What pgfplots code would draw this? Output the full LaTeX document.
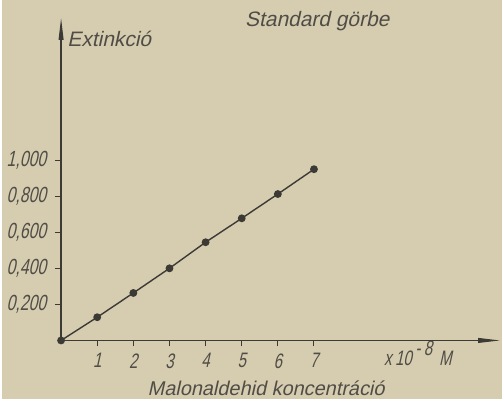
\documentclass[border=0pt]{standalone}
\usepackage{fontspec}
\setmainfont{Liberation Sans}
\newfontfamily\hand[FakeSlant=0.22]{Liberation Sans}
\newfontfamily\handnarrow[FakeSlant=0.22,FakeStretch=0.72]{Liberation Sans}
\usepackage{pgfplots}
\pgfplotsset{compat=1.18}
\usetikzlibrary{arrows.meta}
\definecolor{paper}{RGB}{214,204,176}
\definecolor{ink}{RGB}{60,58,52}
\definecolor{pen}{RGB}{80,77,70}
\begin{document}
\begin{tikzpicture}
\begin{axis}[
 scale only axis, width=220.5pt, height=162pt,
 xmin=0, xmax=12.15, ymin=0, ymax=1.793,
 axis lines=left,
 axis line style={ink, line width=0.6pt, -{Triangle[length=11pt,width=2.4pt]}},
 axis on top,
 clip=false,
 xtick={1,2,3,4,5,6,7}, xticklabels={1,2,3,4,5,6,7},
 ytick={0.2,0.4,0.6,0.8,1.0},
 yticklabels={{0,200},{0,400},{0,600},{0,800},{1,000}},
 tick align=outside, major tick length=3pt,
 tick style={ink, line width=0.5pt},
 xticklabel style={font=\handnarrow\fontsize{10.5}{12}\selectfont, text=pen},
 yticklabel style={font=\handnarrow\fontsize{11}{13}\selectfont, text=pen, xshift=-1pt},
]
\fill[paper] (axis cs:-1.625,-0.3265) rectangle (axis cs:12.204,1.8927);
\addplot[ink, line width=0.7pt, mark=*, mark size=1.6pt, mark options={fill=ink}]
 coordinates {(0,0) (1,0.129) (2,0.264) (3,0.401) (4,0.546) (5,0.679) (6,0.814) (7,0.952)};
\node[anchor=base, inner sep=0, font=\hand\fontsize{10.5}{12}\selectfont, text=pen] at (axis cs:7.09,1.743) {Standard görbe};
\node[anchor=base west, inner sep=0, font=\hand\fontsize{10.5}{12}\selectfont, text=pen] at (axis cs:0.165,1.633) {Extinkció};
\node[anchor=base west, inner sep=0, font=\handnarrow\fontsize{10.5}{12}\selectfont, text=pen] at (axis cs:8.93,-0.138) {x\,10\,\raisebox{0.9ex}{-\,8}\,\,M};
\node[anchor=base, inner sep=0, font=\hand\fontsize{10}{12}\selectfont, text=pen] at (axis cs:5.675,-0.304) {Malonaldehid koncentráció};
\end{axis}
\end{tikzpicture}
\end{document}
